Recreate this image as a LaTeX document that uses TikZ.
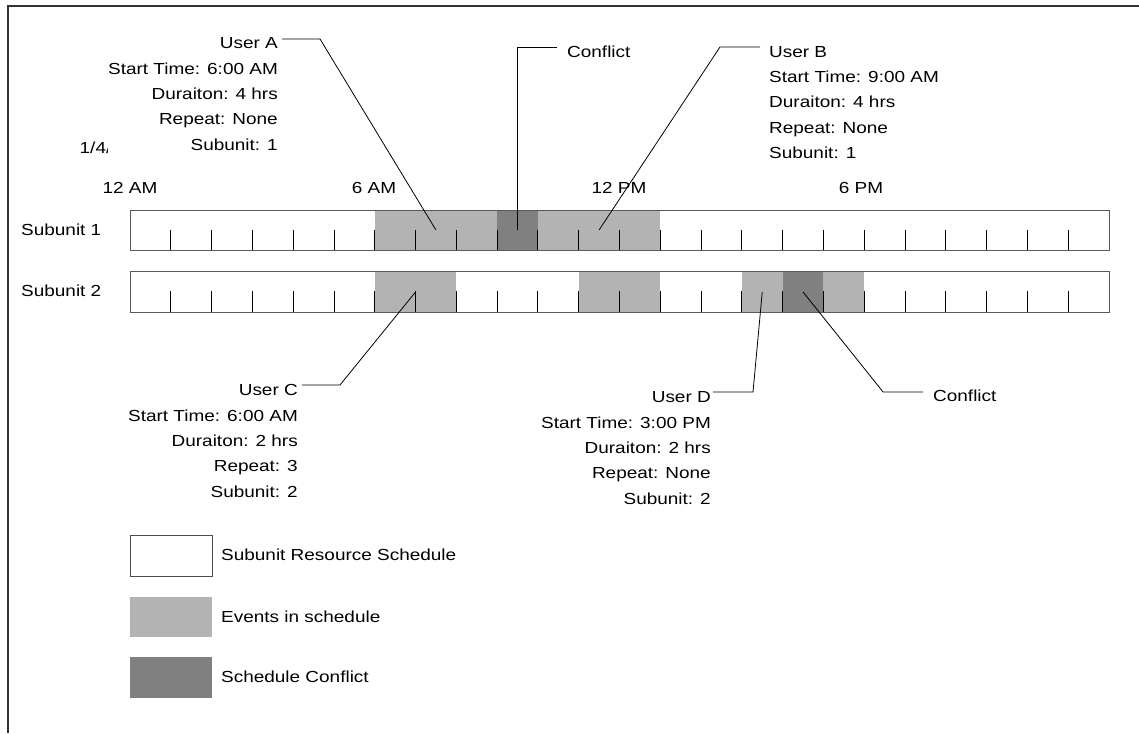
\documentclass[tikz,border=0pt]{standalone}
\usepackage{fontspec}
\setmainfont{Liberation Sans}[FakeStretch=1.185]
\definecolor{evtgray}{HTML}{B3B3B3}
\definecolor{cflgray}{HTML}{808080}
\begin{document}
\begin{tikzpicture}[x=1pt,y=-1pt,
  lbl/.style={inner sep=0pt, font=\fontsize{16}{25.3}\selectfont},
  leader/.style={draw=black, line width=0.8pt},
  barbox/.style={draw=black!65, line width=1.2pt, inner sep=0pt, anchor=north west, minimum width=979pt},
  evt/.style={fill=evtgray},
  cfl/.style={fill=cflgray},
  tickmark/.style={draw=black, line width=0.9pt},
  legbox/.style={inner sep=0pt, anchor=north west, minimum width=82pt}]
\useasboundingbox (0,0) rectangle (1139,733);
% frame
\draw[line width=1.8pt, black!80] (8,733) -- (8,6) -- (1139,6);

% subunit 1 events
\foreach \a/\b in {6/9,10/13}
  \fill[evt] ({130+\a*40.79},210) rectangle ({130+\b*40.79},250);
\fill[cfl] ({130+9*40.79},210) rectangle ({130+10*40.79},250);
% subunit 2 events
\foreach \a/\b in {6/8,11/13,15/16,17/18}
  \fill[evt] ({130+\a*40.79},271) rectangle ({130+\b*40.79},312);
\fill[cfl] ({130+16*40.79},271) rectangle ({130+17*40.79},312);
% ticks
\foreach \i in {1,...,23} {
  \draw[tickmark] ({130+\i*40.79},229.5) -- ++(0,20.5);
  \draw[tickmark] ({130+\i*40.79},291) -- ++(0,21);
}
% bars
\node[barbox, minimum height=40pt] (bar1) at (130,210) {};
\node[barbox, minimum height=41pt] (bar2) at (130,271) {};

% time labels
\node[lbl, anchor=base] (t0) at (130,193.7) {12 AM};
\node[lbl, anchor=base] (t6) at (374,193.7) {6 AM};
\node[lbl, anchor=base] (t12) at (619,193.7) {12 PM};
\node[lbl, anchor=base] (t18) at (861,193.7) {6 PM};

% subunit labels
\node[lbl, anchor=base west] (s1) at (21,235.7) {Subunit 1};
\node[lbl, anchor=base west] (s2) at (21,296.7) {Subunit 2};

% clipped date
\begin{scope}
  \clip (0,0) rectangle (107,733);
  \node[lbl, anchor=base west] (date) at (79.5,153.7) {1/4/};
\end{scope}

% leader end points
\coordinate (pA) at ({130+7.5*40.79},230);
\coordinate (pC1) at ({130+9.5*40.79},230);
\coordinate (pB) at ({130+11.5*40.79},230);
\coordinate (pUC) at ({130+7*40.79},292);
\coordinate (pD) at ({130+15.5*40.79},292);
\coordinate (pC2) at ({130+16.5*40.79},292);

% callouts
\node[lbl, align=right, anchor=north east] (userA) at (278,37.6)
  {User A\\Start Time: 6:00 AM\\Duraiton: 4 hrs\\Repeat: None\\Subunit: 1};
\node[lbl, align=left, anchor=north west] (userB) at (769,46)
  {User B\\Start Time: 9:00 AM\\Duraiton: 4 hrs\\Repeat: None\\Subunit: 1};
\node[lbl, align=right, anchor=north east] (userC) at (298,384.5)
  {User C\\Start Time: 6:00 AM\\Duraiton: 2 hrs\\Repeat: 3\\Subunit: 2};
\node[lbl, align=right, anchor=north east] (userD) at (711,391.6)
  {User D\\Start Time: 3:00 PM\\Duraiton: 2 hrs\\Repeat: None\\Subunit: 2};
\node[lbl, anchor=base west] (conflictTop) at (567,57.4) {Conflict};
\node[lbl, anchor=base west] (conflictBot) at (933,401.7) {Conflict};

\draw[leader] ([xshift=4pt,yshift=-1.4pt]userA.north east) -- ++(38,0) -- (pA);
\draw[leader] (pC1) |- ([xshift=-10pt,yshift=-1.3pt]conflictTop.north west);
\draw[leader] ([xshift=-9pt,yshift=-1pt]userB.north west) -- ++(-40,0) -- (pB);
\draw[leader] ([xshift=4pt,yshift=-0.5pt]userC.north east) -- ++(38,0) -- (pUC);
\draw[leader] ([xshift=2pt,yshift=-0.4pt]userD.north east) -- ++(40,0) -- (pD);
\draw[leader] ([xshift=-10pt,yshift=-2pt]conflictBot.north west) -- ++(-40,0) -- (pC2);

% legend
\node[legbox, draw=black!70, line width=1pt, minimum height=41pt] (legW) at (130,535) {};
\node[legbox, fill=evtgray, minimum height=40pt] (legE) at (130,597) {};
\node[legbox, fill=cflgray, minimum height=41pt] (legC) at (130,657) {};
\node[lbl, anchor=base west] (legWt) at (221,560.7) {Subunit Resource Schedule};
\node[lbl, anchor=base west] (legEt) at (221,622.7) {Events in schedule};
\node[lbl, anchor=base west] (legCt) at (221,682.7) {Schedule Conflict};
\end{tikzpicture}
\end{document}
